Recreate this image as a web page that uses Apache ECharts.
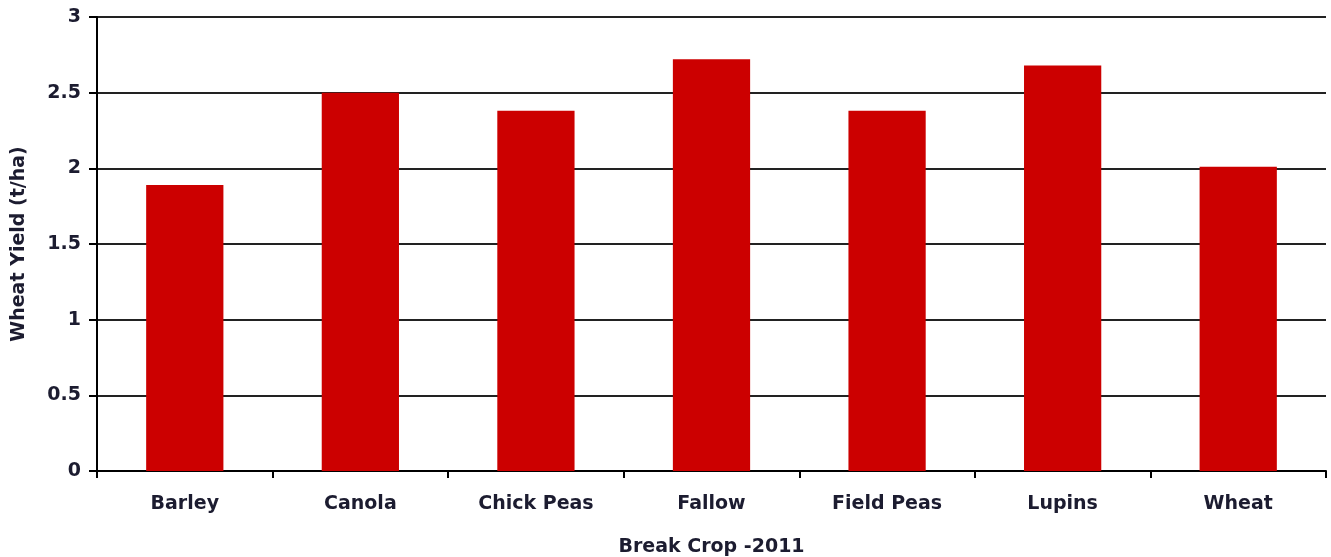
<!DOCTYPE html>
<html>
<head>
<meta charset="utf-8">
<script src="https://cdn.jsdelivr.net/npm/echarts@6/dist/echarts.min.js"></script>
<style>
  html, body { margin: 0; padding: 0; background: #fff; }
  #chart { width: 1331px; height: 557px; }
</style>
</head>
<body>
<div id="chart"></div>
<script>
const crops = ["Barley", "Canola", "Chick Peas", "Fallow", "Field Peas", "Lupins", "Wheat"];
const yieldValues = [1.89, 2.5, 2.38, 2.72, 2.38, 2.68, 2.01];

const myChart = echarts.init(document.getElementById("chart"));
const labelFont = { fontFamily: "DejaVu Sans", fontSize: 19, fontWeight: "bold", color: "#1c1c30" };

const option = {
  animation: false,
  grid: { left: 97, right: 5, top: 17, bottom: 86, containLabel: false, outerBoundsMode: "none" },
  xAxis: {
    type: "category",
    data: crops,
    name: "Break Crop -2011",
    nameLocation: "middle",
    nameGap: 67,
    nameTextStyle: labelFont,
    axisLine: { lineStyle: { color: "#000", width: 2 } },
    axisTick: { show: true, length: 7, lineStyle: { color: "#000", width: 2 } },
    axisLabel: { ...labelFont, margin: 24 }
  },
  yAxis: {
    type: "value",
    min: 0,
    max: 3,
    interval: 0.5,
    name: "Wheat Yield (t/ha)",
    nameLocation: "middle",
    nameGap: 68,
    nameTextStyle: labelFont,
    axisLine: { show: true, lineStyle: { color: "#000", width: 2 } },
    axisTick: { show: true, length: 8, lineStyle: { color: "#000", width: 2 } },
    axisLabel: { ...labelFont, margin: 16 },
    splitLine: { show: true, lineStyle: { color: "#222", width: 2 } }
  },
  series: [{
    type: "bar",
    data: yieldValues,
    barWidth: "44%",
    itemStyle: { color: "#cc0000" }
  }]
};
myChart.setOption(option);
</script>
</body>
</html>
